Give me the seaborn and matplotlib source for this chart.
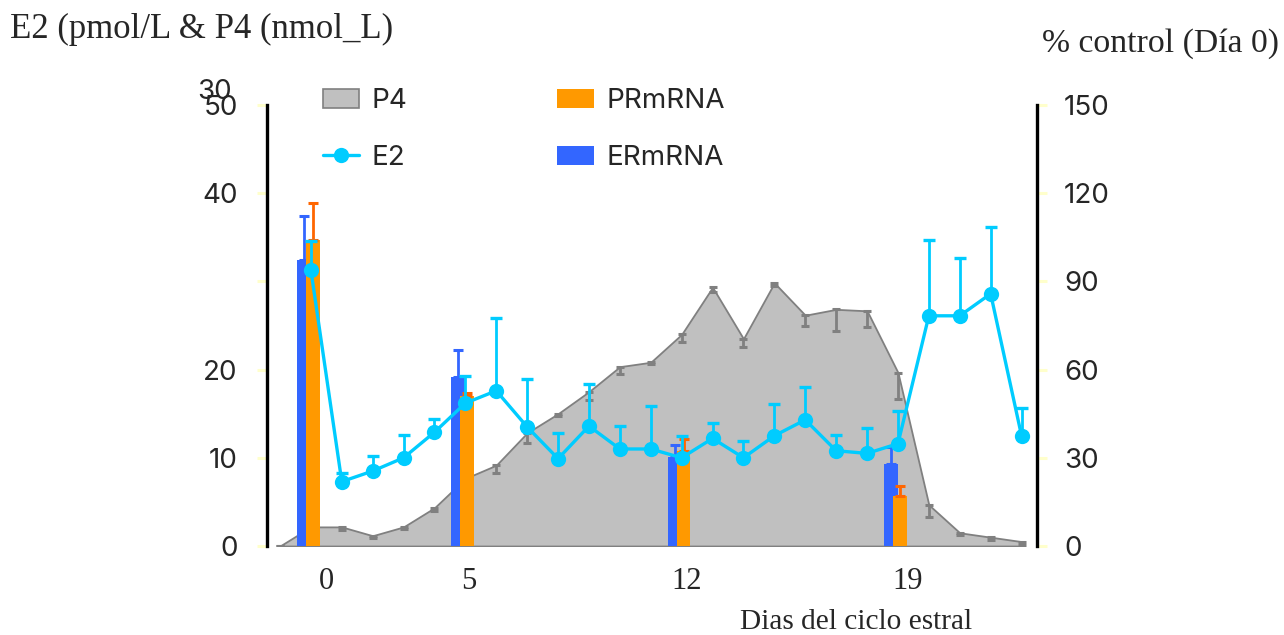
import matplotlib
matplotlib.use("Agg")
import matplotlib.pyplot as plt
import seaborn as sns
import pandas as pd
from matplotlib.patches import Patch
from matplotlib.lines import Line2D

# ---------------- data ----------------
days = list(range(24))
e2 = [31.3, 7.3, 8.5, 10.0, 12.9, 16.2, 17.6, 13.5, 9.9, 13.6, 11.0, 11.0,
      10.0, 12.2, 10.0, 12.5, 14.3, 10.8, 10.5, 11.6, 26.1, 26.1, 28.6, 12.5]
e2_err = [3.3, 1.0, 1.7, 2.6, 1.5, 3.1, 8.2, 5.4, 2.9, 4.8, 2.6, 4.9,
          2.5, 1.8, 1.9, 3.6, 3.7, 1.8, 2.9, 3.7, 8.6, 6.6, 7.6, 3.1]

p4_days = list(range(-1, 24))
p4 = [0.0, 1.3, 1.3, 0.7, 1.3, 2.6, 4.6, 5.5, 7.7, 9.0, 10.5, 12.2, 12.5,
      14.4, 17.6, 14.1, 17.9, 15.7, 16.1, 16.0, 11.8, 2.8, 0.9, 0.6, 0.3]
p4_err = [0.0, 0.0, 0.2, 0.15, 0.15, 0.2, 0.3, 0.55, 0.7, 0.15, 0.6, 0.5, 0.15,
          0.5, 0.3, 0.55, 0.2, 0.7, 1.5, 1.1, 1.8, 0.8, 0.15, 0.2, 0.2]

mrna_days = [0, 5, 12, 19]
er_mrna = [97.3, 57.5, 30.3, 27.9]
er_err = [15.0, 9.2, 4.0, 5.8]
pr_mrna = [104.0, 51.0, 32.3, 17.0]
pr_err = [12.6, 1.0, 4.0, 3.4]

xtick_days = [0, 5, 12, 19]
xtick_labels = ["0", "5", "12", "19"]
left_ticks = [0, 10, 20, 30, 40, 50]
left_labels = ["0", "10", "20", "", "40", "50"]
right_ticks = [0, 30, 60, 90, 120, 150]

# ---------------- style ----------------
sns.set_style("white")
plt.rcParams["font.family"] = ["Inter", "DejaVu Sans"]
SERIF = ["Liberation Serif", "DejaVu Serif"]

C_E2 = "#00CCFF"
C_ER = "#3366FF"
C_PR = "#FF9900"
C_PR_ERR = "#FF6600"
C_P4 = "#C0C0C0"
C_P4_EDGE = "#808080"
C_TICK = "#FFFFCC"

W, H = 1284, 635
fig = plt.figure(figsize=(W / 100, H / 100), dpi=100)
rect = [267 / W, 1 - 546 / H, 770 / W, 441 / H]

ax_p4 = fig.add_axes(rect)
ax_bar = ax_p4.twinx()
ax_e2 = ax_p4.twinx()
ax_p4.set_zorder(1)
ax_bar.set_zorder(2)
ax_e2.set_zorder(3)
for a in (ax_bar, ax_e2):
    a.patch.set_visible(False)

xlim = (-1.42, 23.5)
for a in (ax_p4, ax_bar, ax_e2):
    a.set_xlim(*xlim)
    for s in a.spines.values():
        s.set_visible(False)

# ---- P4 area ----
ax_p4.set_ylim(0, 30)
ax_p4.fill_between(p4_days, p4, 0, facecolor=C_P4, edgecolor=C_P4_EDGE,
                   linewidth=1.3, zorder=1)
ax_p4.errorbar(p4_days, p4, yerr=[p4_err, [0] * len(p4_err)], fmt="none",
               ecolor=C_P4_EDGE, elinewidth=2.0, capsize=3, capthick=2.2,
               zorder=2)
ax_p4.tick_params(axis="y", left=False, labelleft=False, right=False,
                  labelright=False)
ax_p4.set_xticks([d + o for d, o in zip(xtick_days, [0.5, 0.1, 0.15, 0.3])])
ax_p4.set_xticklabels(xtick_labels, fontsize=22, family=SERIF)
ax_p4.tick_params(axis="x", length=0, pad=15)
ax_p4.annotate("30", xy=(0, 1), xycoords="axes fraction",
               xytext=(-25, 9.5), textcoords="offset points",
               ha="right", va="center", fontsize=20)

# ---- mRNA bars (right axis) ----
ax_bar.set_ylim(0, 150)
bw = 0.45
er_x = [d - 0.23 for d in mrna_days]
pr_x = [d + 0.06 for d in mrna_days]
ax_bar.bar(er_x, er_mrna, width=bw, color=C_ER, linewidth=0, zorder=1)
ax_bar.errorbar(er_x, er_mrna, yerr=[[0] * 4, er_err], fmt="none",
                ecolor=C_ER, elinewidth=2.0, capsize=3.5, capthick=2.2, zorder=1)
ax_bar.bar(pr_x, pr_mrna, width=bw, color=C_PR, linewidth=0, zorder=2)
ax_bar.errorbar(pr_x, pr_mrna, yerr=[[0] * 4, pr_err], fmt="none",
                ecolor=C_PR_ERR, elinewidth=2.0, capsize=3.5, capthick=2.2,
                zorder=2)
ax_bar.yaxis.tick_right()
ax_bar.set_yticks(right_ticks)
ax_bar.set_yticklabels([str(t) for t in right_ticks], fontsize=20)
ax_bar.tick_params(axis="y", right=True, left=False, length=7.5, width=2.2,
                   color=C_TICK, pad=12, direction="out")
ax_bar.spines["right"].set_visible(True)
ax_bar.spines["right"].set_color("black")
ax_bar.spines["right"].set_linewidth(2.4)

# ---- E2 line (left axis) ----
ax_e2.set_ylim(0, 50)
ax_e2.errorbar(days, e2, yerr=[[0] * len(e2_err), e2_err], fmt="none",
               ecolor=C_E2, elinewidth=2.0, capsize=4, capthick=2.4, zorder=2)
df_e2 = pd.DataFrame({"day": days, "E2": e2})
sns.lineplot(data=df_e2, x="day", y="E2", ax=ax_e2, color=C_E2, marker="o",
             markersize=11, markeredgewidth=0, linewidth=2.4, zorder=3,
             legend=False)
ax_e2.set_xlabel("")
ax_e2.set_ylabel("")
ax_e2.yaxis.tick_left()
ax_e2.set_yticks(left_ticks)
ax_e2.set_yticklabels(left_labels, fontsize=20)
ax_e2.tick_params(axis="y", left=True, right=False, labelleft=True,
                  labelright=False, length=7.5, width=2.2, color=C_TICK,
                  pad=13.5, direction="out")
ax_e2.spines["left"].set_visible(True)
ax_e2.spines["left"].set_color("black")
ax_e2.spines["left"].set_linewidth(2.4)

# ---- legend ----
handles = [
    Patch(facecolor=C_P4, edgecolor=C_P4_EDGE, linewidth=1.2),
    Line2D([0], [0], color=C_E2, lw=2.4, marker="o", markersize=11,
           markeredgewidth=0),
    Patch(facecolor=C_PR, edgecolor="none"),
    Patch(facecolor=C_ER, edgecolor="none"),
]
labels = ["P4", "E2", "PRmRNA", "ERmRNA"]
fig.legend(handles, labels, loc="upper left",
           bbox_to_anchor=(323 / W, 1 - 88 / H), ncol=2, frameon=False,
           fontsize=20, handlelength=1.3, handleheight=0.7,
           handletextpad=0.45, labelspacing=1.12, columnspacing=5.4,
           borderpad=0, borderaxespad=0)

# ---- texts ----
fig.text(10 / W, 1 - 29 / H, "E2 (pmol/L & P4 (nmol_L)", ha="left",
         va="center", fontsize=25, family=SERIF)
fig.text(1279 / W, 1 - 44 / H, "% control (Día 0)", ha="right", va="center",
         fontsize=24.3, family=SERIF)
fig.text(856 / W, 1 - 622 / H, "Dias del ciclo estral", ha="center",
         va="center", fontsize=21.2, family=SERIF)

fig.savefig("out.png", dpi=100, facecolor="white")
